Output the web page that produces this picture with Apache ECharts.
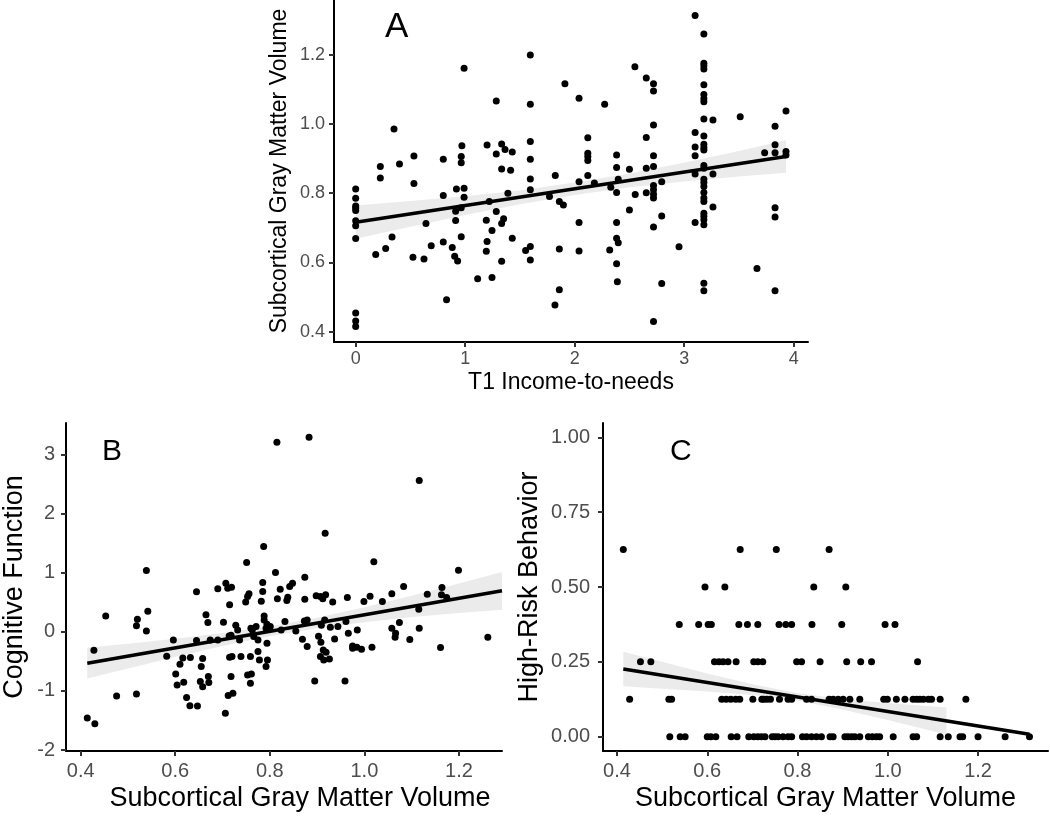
<!DOCTYPE html>
<html>
<head>
<meta charset="utf-8">
<script src="https://cdn.jsdelivr.net/npm/echarts@6/dist/echarts.min.js"></script>
<style>
html,body{margin:0;padding:0;background:#fff;}
#chart{width:1050px;height:817px;}
</style>
</head>
<body>
<div id="chart"></div>
<script>
// ---------- Panel A: T1 Income-to-needs vs Subcortical Gray Matter Volume ----------
const aTicksX = [0, 1, 2, 3, 4];
const aTicksY = [0.4, 0.6, 0.8, 1.0, 1.2];
const aPoints = [
  [0,0.812],[0,0.785],[0,0.763],[0,0.757],[0,0.75],[0,0.72],[0,0.706],[0,0.669],[0,0.454],[0,0.431],[0,0.415],
  [0.183,0.623],[0.225,0.877],[0.225,0.844],[0.274,0.640],[0.332,0.673],[0.35,0.985],[0.40,0.884],[0.532,0.907],[0.532,0.828],
  [0.523,0.615],[0.624,0.610],[0.642,0.712],[0.69,0.648],[0.80,0.898],[0.80,0.793],[0.80,0.659],[0.83,0.492],[0.882,0.643],
  [0.904,0.618],[0.931,0.604],[0.92,0.812],[0.913,0.748],[0.913,0.721],[0.964,0.906],[0.964,0.888],[0.97,0.937],[0.964,0.758],
  [0.964,0.674],[0.99,1.161],[0.99,0.814],[0.99,0.788],
  [1.114,0.553],[1.193,0.722],[1.2,0.66],[1.193,0.632],[1.2,0.939],[1.22,0.776],[1.245,0.556],[1.245,0.692],[1.284,1.066],
  [1.284,0.913],[1.284,0.747],[1.333,0.942],[1.333,0.870],[1.333,0.712],[1.333,0.603],[1.351,0.726],[1.364,0.926],[1.39,0.80],
  [1.415,0.866],[1.43,0.919],[1.43,0.670],[1.552,0.634],[1.595,1.199],[1.595,1.057],[1.595,0.949],[1.595,0.898],[1.595,0.841],
  [1.595,0.810],[1.595,0.646],[1.595,0.607],
  [1.77,0.79],[1.823,0.851],[1.82,0.477],[1.86,0.776],[1.86,0.639],[1.86,0.521],[1.897,0.766],[1.911,1.116],
  [2.04,1.074],[2.04,0.833],[2.04,0.715],[2.04,0.633],[2.12,0.96],[2.12,0.915],[2.12,0.906],[2.12,0.894],[2.12,0.851],[2.18,0.829],
  [2.274,1.057],[2.32,0.636],[2.33,0.817],[2.383,0.91],[2.383,0.874],[2.398,0.84],[2.383,0.802],[2.383,0.715],[2.383,0.67],
  [2.398,0.657],[2.383,0.596],[2.39,0.544],[2.50,0.869],[2.50,0.751],[2.55,1.165],[2.553,0.796],[2.654,1.133],[2.654,0.961],
  [2.654,0.872],[2.654,0.801],[2.72,1.116],[2.72,1.095],[2.72,0.997],[2.72,0.908],[2.72,0.877],[2.72,0.822],[2.72,0.81],
  [2.72,0.797],[2.72,0.786],[2.72,0.702],[2.72,0.429],[2.795,0.833],[2.795,0.734],[2.795,0.539],[2.953,0.645],
  [3.10,1.313],[3.10,0.975],[3.10,0.933],[3.10,0.908],[3.10,0.855],[3.10,0.715],[3.18,1.26],[3.18,1.175],[3.18,1.168],
  [3.18,1.159],[3.18,1.113],[3.18,1.085],[3.18,1.073],[3.18,1.064],[3.18,1.014],[3.18,0.965],[3.18,0.941],[3.18,0.932],
  [3.18,0.925],[3.18,0.88],[3.18,0.872],[3.18,0.84],[3.18,0.831],[3.18,0.819],[3.18,0.802],[3.18,0.786],[3.18,0.776],
  [3.18,0.742],[3.18,0.733],[3.18,0.723],[3.18,0.709],[3.18,0.54],[3.18,0.518],[3.263,1.011],[3.263,0.855],[3.263,0.76],
  [3.512,1.021],[3.665,0.582],[3.735,0.917],[3.83,0.993],[3.83,0.94],[3.83,0.917],[3.83,0.758],[3.83,0.731],[3.83,0.518],
  [3.93,1.037],[3.93,0.92],[3.93,0.91]
];
const aFitX = [0, 3.93];
const aFitY = [0.716, 0.906];
const aBandX = [0, 0.5, 1, 1.5, 2, 2.5, 3, 3.5, 3.93];
const aBandLow = [0.668, 0.703, 0.737, 0.768, 0.795, 0.817, 0.834, 0.848, 0.859];
const aBandHigh = [0.764, 0.777, 0.791, 0.808, 0.831, 0.857, 0.888, 0.922, 0.953];

// ---------- Panel B: Subcortical Gray Matter Volume vs Cognitive Function ----------
const bTicksX = [0.4, 0.6, 0.8, 1.0, 1.2];
const bTicksY = [-2, -1, 0, 1, 2, 3];
const bPoints = [
  [0.414,-1.458],[0.430,-1.554],[0.428,-0.311],[0.453,0.271],[0.476,-1.085],[0.518,-1.051],[0.520,0.215],[0.518,0.102],
  [0.539,1.040],[0.542,0.350],[0.539,0.017],[0.596,-0.136],[0.582,-0.412],[0.601,-0.712],[0.604,-0.898],[0.610,-0.548],
  [0.616,-0.441],[0.618,-0.853],[0.624,-1.113],[0.631,-1.249],[0.647,-1.254],[0.632,-0.435],[0.645,0.678],[0.645,-0.147],
  [0.653,-0.842],[0.658,-0.927],[0.665,0.288],[0.669,0.158],[0.670,-0.757],[0.671,-0.859],[0.655,-0.588],[0.658,-0.452],
  [0.674,-0.136],[0.690,-0.136],[0.690,0.729],[0.702,0.164],[0.707,0.825],[0.711,0.740],[0.719,0.757],[0.715,0.458],
  [0.718,-0.056],[0.714,-0.068],[0.715,-0.429],[0.720,-0.418],[0.718,-0.757],[0.712,-1.079],[0.722,-1.040],[0.706,-1.379],
  [0.728,0.113],[0.732,0.034],[0.736,-0.136],[0.739,-0.418],[0.749,0.508],[0.753,0.599],[0.751,1.175],[0.756,0.644],
  [0.760,0.062],[0.759,-0.418],[0.753,-0.729],[0.759,-0.870],[0.761,-0.712],[0.763,0.034],[0.766,-0.079],[0.771,0.090],
  [0.775,-0.333],[0.778,-0.475],[0.775,-0.136],[0.787,1.446],[0.785,0.836],[0.782,0.520],[0.788,0.271],[0.788,0.203],
  [0.792,-0.588],[0.794,-0.192],[0.795,-0.475],
  [0.815,3.209],[0.883,3.294],[1.116,2.565],[0.917,1.672],[1.020,1.186],[1.199,1.045],[0.812,1.006],[0.874,0.927],
  [0.822,0.723],[0.848,0.825],[0.842,0.768],[0.838,0.588],[0.785,0.684],[0.874,0.554],[0.816,0.559],[0.836,0.531],
  [0.794,0.130],[0.801,0.090],[0.792,0.062],[0.824,0.034],[0.832,0.175],[0.873,0.186],[0.879,0.203],[0.855,0.017],
  [0.869,-0.124],[0.879,-0.249],[0.907,0.599],[0.912,0.559],[0.918,0.627],[0.898,0.610],[0.933,0.508],[0.916,0.203],
  [0.909,0.113],[0.928,0.079],[0.944,0.090],[0.903,-0.073],[0.908,-0.175],[0.913,-0.305],[0.919,-0.345],[0.914,-0.475],
  [0.926,-0.458],[0.907,-0.418],[0.895,-0.831],[0.959,-0.831],[0.937,-0.119],[0.961,0.175],[0.966,-0.023],[0.975,-0.237],
  [0.975,-0.277],[0.985,0.034],[0.984,-0.260],[0.994,-0.294],[0.964,0.582],[0.999,0.514],[1.012,0.605],[1.016,-0.260],
  [1.038,0.514],[1.058,0.644],[1.083,0.768],[1.058,0.062],[1.066,-0.023],[1.065,-0.090],[1.074,0.158],[1.096,-0.130],
  [1.133,0.638],[1.115,0.384],[1.116,0.062],[1.164,0.751],[1.163,0.627],[1.174,0.582],[1.161,-0.266],[1.261,-0.090]
];
const bFitX = [0.414, 1.291];
const bFitY = [-0.53, 0.695];
const bBandX = [0.414, 0.5, 0.6, 0.7, 0.8, 0.9, 1.0, 1.1, 1.2, 1.291];
const bBandLow = [-0.79, -0.62, -0.425, -0.24, -0.075, 0.06, 0.165, 0.25, 0.32, 0.375];
const bBandHigh = [-0.27, -0.2, -0.115, -0.02, 0.095, 0.24, 0.415, 0.61, 0.82, 1.015];

// ---------- Panel C: Subcortical Gray Matter Volume vs High-Risk Behavior ----------
const cTicksX = [0.4, 0.6, 0.8, 1.0, 1.2];
const cTicksY = [0, 0.25, 0.5, 0.75, 1.0];
const cRiskLevels = [0.625, 0.5, 0.375, 0.25, 0.125, 0];
const cVolumeAtLevel = [
  [0.414, 0.673, 0.753, 0.870],
  [0.595, 0.639, 0.836, 0.907],
  [0.538, 0.581, 0.602, 0.609, 0.670, 0.689, 0.712, 0.759, 0.774, 0.787, 0.832, 0.898, 0.994, 1.016],
  [0.452, 0.475, 0.616, 0.626, 0.635, 0.646, 0.664, 0.703, 0.712, 0.723, 0.798, 0.809, 0.850, 0.909, 0.940, 0.964, 1.066],
  [0.428, 0.515, 0.521, 0.632, 0.642, 0.652, 0.663, 0.672, 0.701, 0.721, 0.725, 0.732, 0.740, 0.760, 0.779, 0.787, 0.820,
   0.831, 0.870, 0.879, 0.890, 0.901, 0.916, 0.938, 0.991, 0.999, 1.019, 1.038, 1.056, 1.064, 1.071, 1.079, 1.090, 1.097,
   1.116, 1.173],
  [0.517, 0.540, 0.551, 0.600, 0.608, 0.619, 0.653, 0.666, 0.692, 0.703, 0.712, 0.720, 0.728, 0.744, 0.750, 0.757, 0.768,
   0.779, 0.787, 0.811, 0.820, 0.831, 0.842, 0.853, 0.872, 0.879, 0.905, 0.912, 0.920, 0.927, 0.938, 0.957, 0.966, 0.975,
   0.982, 1.012, 1.056, 1.064, 1.116, 1.134, 1.160, 1.166, 1.200, 1.260, 1.314]
];
const cFitX = [0.414, 1.314];
const cFitY = [0.226, 0.008];
const cBandX = [0.414, 0.5, 0.6, 0.7, 0.8, 0.9, 1.0, 1.13];
const cBandLow = [0.168, 0.16, 0.151, 0.139, 0.12, 0.091, 0.056, 0.007];
const cBandHigh = [0.284, 0.25, 0.211, 0.175, 0.146, 0.125, 0.112, 0.097];

// ---------- build ----------
const cPoints = [];
cRiskLevels.forEach((lv, i) => cVolumeAtLevel[i].forEach(v => cPoints.push([v, lv])));
const pairs = (xs, ys) => xs.map((x, i) => [x, ys[i]]);

const FONT = "'Liberation Sans', Arial, Helvetica, sans-serif";

function axis(o) {
  return {
    type: 'value',
    gridIndex: o.grid,
    min: o.min, max: o.max,
    name: o.name,
    nameLocation: 'middle',
    nameGap: o.nameGap,
    nameTextStyle: Object.assign({color: '#000', fontSize: o.nameSize, fontFamily: FONT}, o.nameExtra || {}),
    axisLine: {show: true, onZero: false, lineStyle: {color: '#000', width: 2}},
    axisTick: {show: true, length: 5, lineStyle: {color: '#333', width: 2}, customValues: o.ticks},
    axisLabel: {show: true, color: '#4D4D4D', fontSize: o.labelSize, fontFamily: FONT, margin: o.margin,
      customValues: o.ticks, formatter: v => v.toFixed(o.dec)},
    splitLine: {show: false}
  };
}

function band(bx, lo, hi, xi) {
  return {
    type: 'custom', xAxisIndex: xi, yAxisIndex: xi, silent: true, z: 1,
    data: [0],
    renderItem: (params, api) => {
      const pts = [];
      for (let i = 0; i < bx.length; i++) pts.push(api.coord([bx[i], hi[i]]));
      for (let i = bx.length - 1; i >= 0; i--) pts.push(api.coord([bx[i], lo[i]]));
      return {type: 'polygon', shape: {points: pts}, style: {fill: '#EBEBEB'}};
    }
  };
}
function scatter(data, xi) {
  return {type: 'scatter', xAxisIndex: xi, yAxisIndex: xi, data: data, symbolSize: 7,
    itemStyle: {color: '#000', opacity: 1}, silent: true, z: 2};
}
function fit(xs, ys, xi) {
  return {type: 'line', xAxisIndex: xi, yAxisIndex: xi, data: pairs(xs, ys), symbol: 'none',
    lineStyle: {color: '#000', width: 3.5}, silent: true, z: 3};
}

const chart = echarts.init(document.getElementById('chart'), null, {renderer: 'canvas'});
chart.setOption({
  animation: false,
  backgroundColor: '#fff',
  grid: [
    {left: 334, top: 0, width: 474, height: 342},
    {left: 64, top: 423, width: 438, height: 328},
    {left: 603, top: 423, width: 445, height: 328}
  ],
  xAxis: [
    axis({grid: 0, min: -0.198, max: 4.131, ticks: aTicksX, dec: 0, name: 'T1 Income-to-needs', nameGap: 29, nameSize: 23, labelSize: 18, margin: 8}),
    axis({grid: 1, min: 0.369, max: 1.291, ticks: bTicksX, dec: 1, name: 'Subcortical Gray Matter Volume', nameGap: 34, nameSize: 27, labelSize: 20, margin: 10, nameExtra: {padding: [0, 0, 0, 32]}}),
    axis({grid: 2, min: 0.369, max: 1.355, ticks: cTicksX, dec: 1, name: 'Subcortical Gray Matter Volume', nameGap: 34, nameSize: 27, labelSize: 20, margin: 10})
  ],
  yAxis: [
    axis({grid: 0, min: 0.37, max: 1.358, ticks: aTicksY, dec: 1, name: 'Subcortical Gray Matter Volume', nameGap: 43, nameSize: 23, labelSize: 18, margin: 9}),
    axis({grid: 1, min: -2.017, max: 3.537, ticks: bTicksY, dec: 0, name: 'Cognitive Function', nameGap: 38, nameSize: 27, labelSize: 20, margin: 11}),
    axis({grid: 2, min: -0.048, max: 1.048, ticks: cTicksY, dec: 2, name: 'High-Risk Behavior', nameGap: 60, nameSize: 27, labelSize: 20, margin: 13})
  ],
  graphic: [
    {type: 'text', left: 385, top: 10, style: {text: 'A', font: '35px ' + FONT, fill: '#000'}},
    {type: 'text', left: 102, top: 437, style: {text: 'B', font: '30px ' + FONT, fill: '#000'}},
    {type: 'text', left: 670, top: 437, style: {text: 'C', font: '30px ' + FONT, fill: '#000'}}
  ],
  series: [
    band(aBandX, aBandLow, aBandHigh, 0), scatter(aPoints, 0), fit(aFitX, aFitY, 0),
    band(bBandX, bBandLow, bBandHigh, 1), scatter(bPoints, 1), fit(bFitX, bFitY, 1),
    band(cBandX, cBandLow, cBandHigh, 2), scatter(cPoints, 2), fit(cFitX, cFitY, 2)
  ]
});
</script>
</body>
</html>
